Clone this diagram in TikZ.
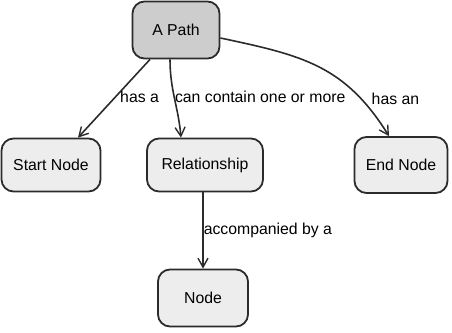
\documentclass[tikz,border=0pt]{standalone}
\usepackage{fontspec}
\setmainfont{Liberation Sans}
\usetikzlibrary{arrows.meta}
\definecolor{boxline}{HTML}{2B2B2B}
\definecolor{pathfill}{HTML}{CDCDCD}
\definecolor{nodefill}{HTML}{EDEDED}
\tikzset{
  concept/.style={draw=boxline, line width=1.8pt, rounded corners=12pt,
    fill=nodefill, minimum height=53pt, align=center},
  rootconcept/.style={concept, fill=pathfill, minimum height=57pt},
  link/.style={draw=boxline, line width=1.6pt,
    -{Straight Barb[length=9pt,width=10pt,line width=1.4pt]}},
  linklabel/.style={anchor=west, inner sep=1pt}
}

\begin{document}
\begin{tikzpicture}[x=1pt, y=-1pt, font=\fontsize{15.8}{19}\selectfont]
  \useasboundingbox (0,0) rectangle (452,332);
  \node[rootconcept, minimum width=87pt] (apath) at (176,30) {A Path};
  \node[concept, minimum width=99pt] (start) at (51,165) {Start Node};
  \node[concept, minimum width=116pt] (rel) at (205,165) {Relationship};
  \node[concept, minimum width=93pt, minimum height=56pt] (endn) at (401,165) {End Node};
  \node[concept, minimum width=90pt, minimum height=57pt] (node) at (203,298) {Node};

  \draw[link] ([xshift=-26pt]apath.south) -- ([xshift=27pt]start.north)
    node[linklabel, pos=.48, xshift=3pt] {has a};
  \draw[link] ([xshift=-6pt]apath.south) to[out=-90, in=95]
    node[linklabel, pos=.48, xshift=-1pt] {can contain one or more} ([xshift=-24pt]rel.north);
  \draw[link] ([yshift=-8pt]apath.east) to[out=-12, in=122, looseness=1.1]
    node[linklabel, pos=.79, xshift=9pt] {has an} ([xshift=-12pt]endn.north);
  \draw[link] (rel.south -| node.north) -- (node.north)
    node[linklabel, pos=.5, xshift=-1pt] {accompanied by a};
\end{tikzpicture}
\end{document}
